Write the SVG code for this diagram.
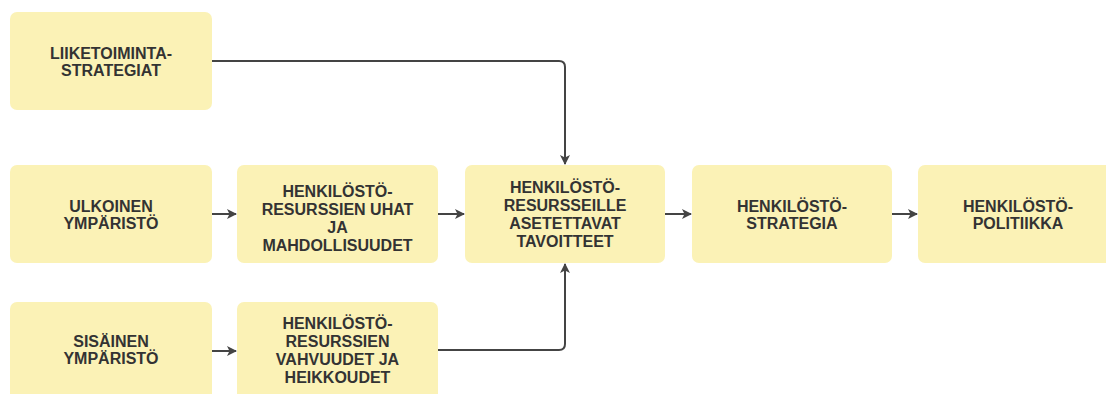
<svg xmlns="http://www.w3.org/2000/svg" width="1106" height="394" viewBox="0 0 1106 394">
  <style>
    .box { fill: #FBF2B6; }
    .lbl { font-family: "Liberation Sans", Arial, sans-serif; font-weight: bold; font-size: 16px; fill: #333333; text-anchor: middle; }
    .wire { fill: none; stroke: #444444; stroke-width: 2; }
  </style>
  <defs>
    <marker id="head" viewBox="0 0 10 10" refX="9" refY="5" markerWidth="5" markerHeight="5" orient="auto" markerUnits="strokeWidth">
      <path d="M0,0 L10,5 L0,10 L2.5,5 Z" fill="#444444"/>
    </marker>
  </defs>
  <rect width="1106" height="394" fill="#FFFFFF"/>

  <g id="liiketoimintastrategiat">
    <rect class="box" x="10" y="12" width="202" height="98" rx="7"/>
    <text class="lbl" x="111" y="59">LIIKETOIMINTA-</text>
    <text class="lbl" x="111" y="76">STRATEGIAT</text>
  </g>

  <g id="ulkoinen-ymparisto">
    <rect class="box" x="10" y="165" width="202" height="98" rx="7"/>
    <text class="lbl" x="111" y="211.5">ULKOINEN</text>
    <text class="lbl" x="111" y="228.5">YMPÄRISTÖ</text>
  </g>

  <g id="uhat-mahdollisuudet">
    <rect class="box" x="237" y="165" width="201" height="98" rx="7"/>
    <text class="lbl" x="337.5" y="197">HENKILÖSTÖ-</text>
    <text class="lbl" x="337.5" y="215">RESURSSIEN UHAT</text>
    <text class="lbl" x="337.5" y="233">JA</text>
    <text class="lbl" x="337.5" y="251">MAHDOLLISUUDET</text>
  </g>

  <g id="tavoitteet">
    <rect class="box" x="465" y="165" width="200" height="98" rx="7"/>
    <text class="lbl" x="565" y="193">HENKILÖSTÖ-</text>
    <text class="lbl" x="565" y="211">RESURSSEILLE</text>
    <text class="lbl" x="565" y="229">ASETETTAVAT</text>
    <text class="lbl" x="565" y="247">TAVOITTEET</text>
  </g>

  <g id="henkilostostrategia">
    <rect class="box" x="692" y="165" width="200" height="98" rx="7"/>
    <text class="lbl" x="792" y="211.5">HENKILÖSTÖ-</text>
    <text class="lbl" x="792" y="228.5">STRATEGIA</text>
  </g>

  <g id="henkilostopolitiikka">
    <rect class="box" x="918" y="165" width="200" height="98" rx="7"/>
    <text class="lbl" x="1018" y="211.5">HENKILÖSTÖ-</text>
    <text class="lbl" x="1018" y="228.5">POLITIIKKA</text>
  </g>

  <g id="sisainen-ymparisto">
    <rect class="box" x="10" y="302" width="202" height="100" rx="7"/>
    <text class="lbl" x="111" y="347">SISÄINEN</text>
    <text class="lbl" x="111" y="364">YMPÄRISTÖ</text>
  </g>

  <g id="vahvuudet-heikkoudet">
    <rect class="box" x="237" y="302" width="201" height="100" rx="7"/>
    <text class="lbl" x="337.5" y="328.5">HENKILÖSTÖ-</text>
    <text class="lbl" x="337.5" y="346.5">RESURSSIEN</text>
    <text class="lbl" x="337.5" y="364.5">VAHVUUDET JA</text>
    <text class="lbl" x="337.5" y="382.5">HEIKKOUDET</text>
  </g>

  <g id="connectors">
    <path class="wire" d="M212,61 H559 Q565,61 565,67 V164" marker-end="url(#head)"/>
    <path class="wire" d="M438,350 H559 Q565,350 565,344 V264" marker-end="url(#head)"/>
    <path class="wire" d="M212,214 H236" marker-end="url(#head)"/>
    <path class="wire" d="M438,214 H464" marker-end="url(#head)"/>
    <path class="wire" d="M665,214 H691" marker-end="url(#head)"/>
    <path class="wire" d="M892,214 H917" marker-end="url(#head)"/>
    <path class="wire" d="M212,351 H236" marker-end="url(#head)"/>
  </g>
</svg>
